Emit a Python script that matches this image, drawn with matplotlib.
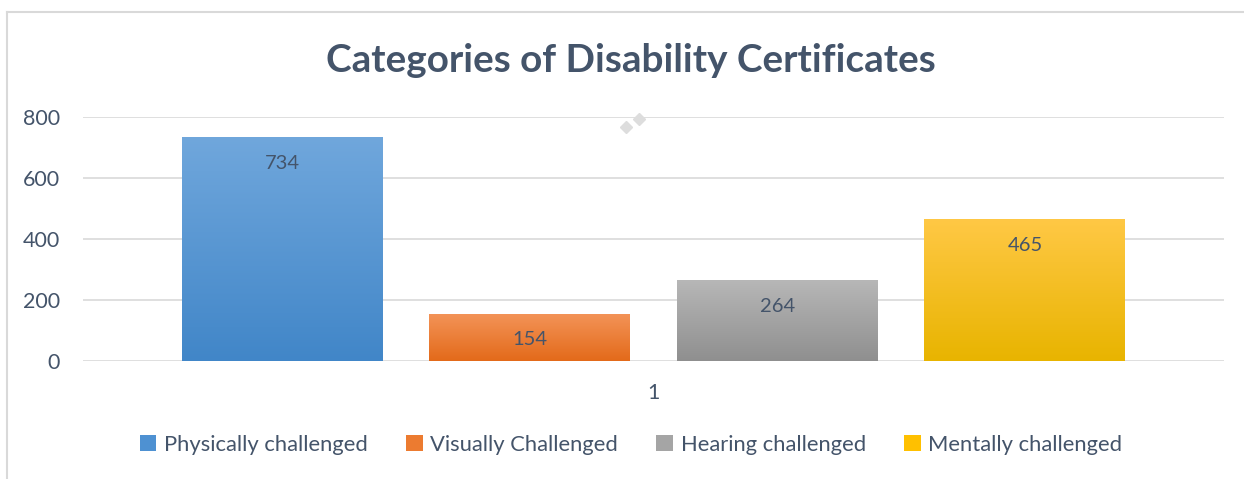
import matplotlib
matplotlib.use('Agg')
import matplotlib.pyplot as plt
import numpy as np
from matplotlib.colors import LinearSegmentedColormap
from matplotlib.patches import Patch

# data
series = ["Physically challenged", "Visually Challenged", "Hearing challenged", "Mentally challenged"]
values = [734, 154, 264, 465]
category = ["1"]
# gradient colours, top -> bottom
grad_top = ["#70A7DC", "#F39357", "#B7B7B7", "#FFC845"]
grad_bot = ["#4186C8", "#E36A1A", "#8F8F8F", "#E8B400"]
legend_colors = ["#4E91D2", "#EC7B30", "#A5A5A5", "#FFC000"]

txt = "#44546A"
plt.rcParams['font.family'] = ['Lato', 'DejaVu Sans']

fig = plt.figure(figsize=(12.44, 4.79), dpi=100)
ax = fig.add_axes([83 / 1244, 1 - 361 / 479, (1224 - 83) / 1244, (361 - 117) / 479])

n = len(series)
width = 0.176
step = 0.217
offsets = (np.arange(n) - (n - 1) / 2) * step

for i in range(n):
    x = 0 + offsets[i]
    b = ax.bar(x, values[i], width=width, color='none', edgecolor='none', zorder=2)[0]
    cmap = LinearSegmentedColormap.from_list("g%d" % i, [grad_bot[i], grad_top[i]])
    grad = np.linspace(0, 1, 256).reshape(-1, 1)
    im = ax.imshow(grad, cmap=cmap, origin='lower', aspect='auto', zorder=3,
                   extent=[x - width / 2, x + width / 2, 0, values[i]])
    im.set_clip_path(b)
    ax.text(x, values[i] - 85, str(values[i]), ha='center', va='center',
            fontsize=14.5, color=txt, zorder=4)

ax.set_xlim(-0.5, 0.5)
ax.set_ylim(0, 800)
ax.set_yticks([0, 200, 400, 600, 800])
ax.set_xticks([0])
ax.set_xticklabels(category)
ax.grid(axis='y', color='#D9D9D9', linewidth=1.2, zorder=0)
ax.set_axisbelow(True)
for s in ax.spines.values():
    s.set_visible(False)
ax.tick_params(axis='both', length=0, labelsize=15.5, colors=txt)
ax.tick_params(axis='y', pad=16.5)
ax.tick_params(axis='x', pad=16)

# stray diamond marks seen in the original
ax.plot([0.476, 0.487], [0.96, 0.99], 'D', color='#DDDDDD', markersize=6,
        transform=ax.transAxes, clip_on=False)

fig.suptitle("Categories of Disability Certificates", x=631 / 1244, y=1 - 61 / 479,
             va='center', fontsize=27.8, fontweight='bold', color=txt)

handles = [Patch(facecolor=c, edgecolor='none') for c in legend_colors]
fig.legend(handles, series, loc='center', bbox_to_anchor=(631 / 1244, 1 - 445 / 479),
           ncol=4, frameon=False, fontsize=15.8, labelcolor=txt, handlelength=0.75,
           handleheight=0.75, handletextpad=0.35, columnspacing=1.75)

# chart frame (cut off at the right and bottom in the original)
fig.add_artist(plt.Line2D([7 / 1244, 1], [1 - 12 / 479] * 2, color='#D9D9D9', lw=1.5))
fig.add_artist(plt.Line2D([7 / 1244] * 2, [0, 1 - 12 / 479], color='#D9D9D9', lw=1.5))

fig.savefig("out.png", dpi=100, facecolor='white')
